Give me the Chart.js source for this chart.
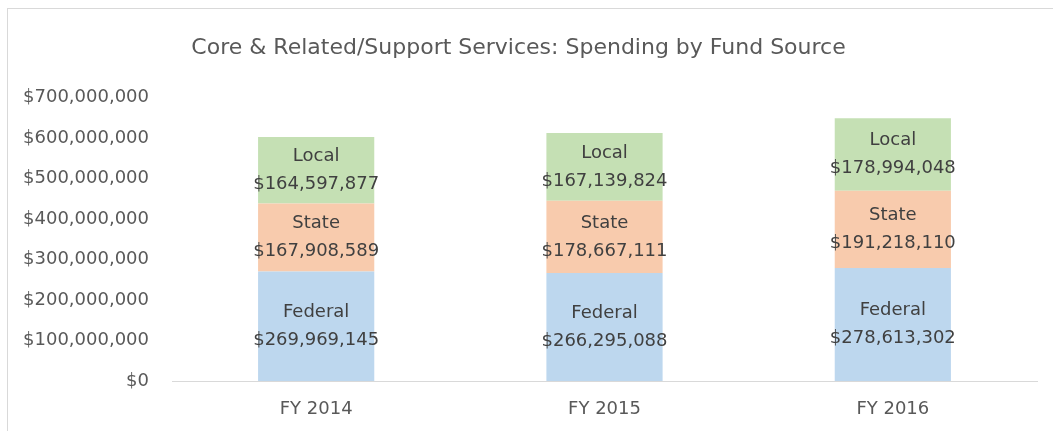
<!DOCTYPE html>
<html>
<head>
<meta charset="utf-8">
<script src="https://cdn.jsdelivr.net/npm/chart.js@4"></script>
<style>
  html, body { margin: 0; padding: 0; background: #fff; }
  body { width: 1053px; height: 431px; overflow: hidden; position: relative; }
  #frame { position: absolute; left: 7px; top: 8px; width: 1100px; height: 500px; border: 1px solid #d9d9d9; box-sizing: border-box; }
  #wrap { position: absolute; left: 0; top: 0; width: 1053px; height: 431px; }
</style>
</head>
<body>
<div id="frame"></div>
<div id="wrap"><canvas id="c" width="1053" height="431"></canvas></div>
<script>
const categories = ["FY 2014", "FY 2015", "FY 2016"];
const seriesNames = ["Federal", "State", "Local"];
const federal = [269969145, 266295088, 278613302];
const state = [167908589, 178667111, 191218110];
const local = [164597877, 167139824, 178994048];
const seriesColors = ["#BDD7EE", "#F8CBAD", "#C5E0B4"];
const titleText = "Core & Related/Support Services: Spending by Fund Source";

const FONT = "'DejaVu Sans', sans-serif";
const money = v => "$" + Number(v).toLocaleString("en-US");

const labelPlugin = {
  id: "segLabels",
  afterDatasetsDraw(chart) {
    const ctx = chart.ctx;
    ctx.save();
    ctx.font = "18px " + FONT;
    ctx.fillStyle = "#404040";
    ctx.textAlign = "center";
    ctx.textBaseline = "middle";
    chart.data.datasets.forEach((ds, di) => {
      const meta = chart.getDatasetMeta(di);
      meta.data.forEach((el, i) => {
        const cy = (el.y + el.base) / 2;
        ctx.fillText(ds.label, el.x, cy - 14);
        ctx.fillText(money(ds.data[i]), el.x, cy + 14);
      });
    });
    ctx.restore();
  }
};

const seriesData = [federal, state, local];
new Chart(document.getElementById("c"), {
  type: "bar",
  data: {
    labels: categories,
    datasets: seriesNames.map((n, k) => ({
      label: n,
      data: seriesData[k],
      backgroundColor: seriesColors[k],
      borderWidth: 0,
      barPercentage: 0.403,
      categoryPercentage: 1.0
    }))
  },
  options: {
    responsive: false,
    animation: false,
    layout: { padding: { top: 11, right: 16, bottom: 10, left: 0 } },
    plugins: {
      legend: { display: false },
      tooltip: { enabled: false },
      title: {
        display: true,
        text: titleText,
        color: "#595959",
        font: { family: FONT, size: 22, weight: "normal", lineHeight: 1.2 },
        padding: { top: 24, bottom: 36 }
      }
    },
    scales: {
      x: {
        stacked: true,
        grid: { display: false, drawTicks: false },
        border: { display: true, color: "#d9d9d9", width: 1 },
        ticks: { color: "#595959", font: { family: FONT, size: 18 }, padding: 18 },
        afterFit(scale) { scale.height = 40; }
      },
      y: {
        stacked: true,
        min: 0,
        max: 700000000,
        grid: { display: false, drawTicks: false },
        border: { display: false },
        ticks: {
          stepSize: 100000000,
          color: "#595959",
          font: { family: FONT, size: 18 },
          padding: 23,
          callback: v => money(v)
        },
        afterFit(scale) { scale.width = 172; }
      }
    }
  },
  plugins: [labelPlugin]
});
</script>
</body>
</html>
